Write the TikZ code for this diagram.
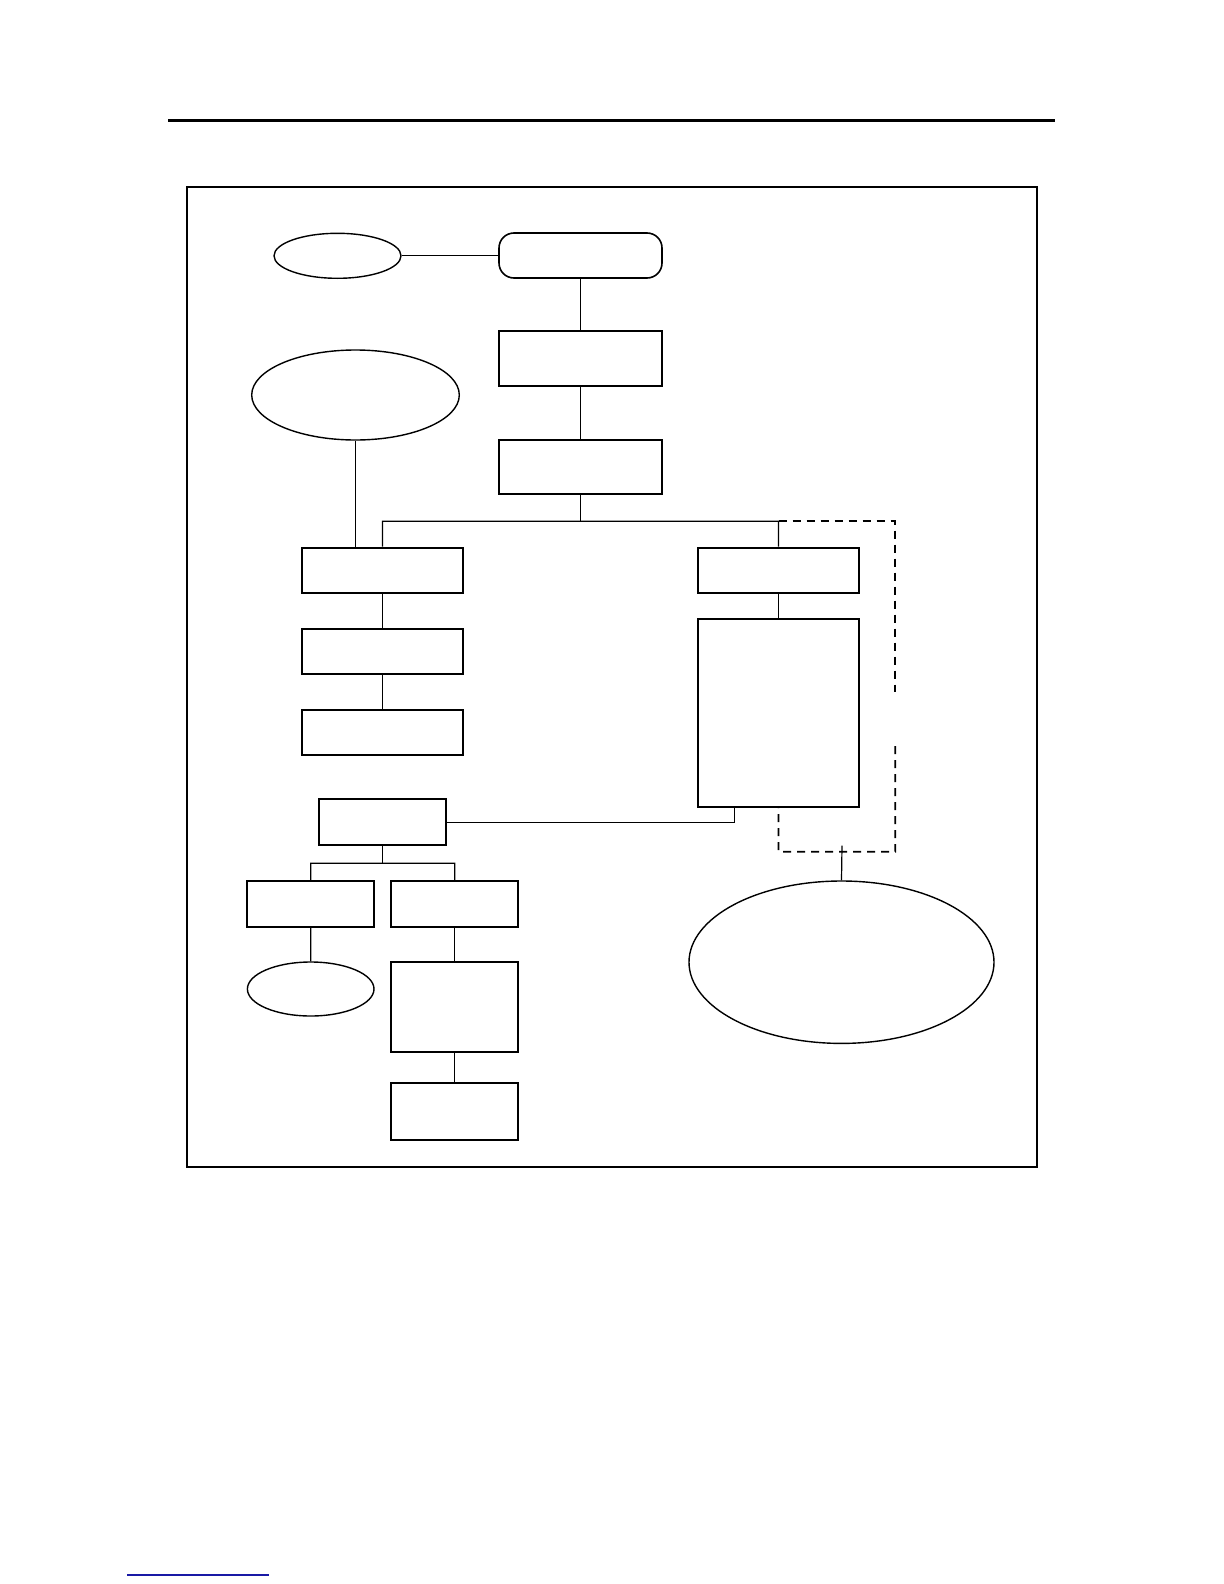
\documentclass[tikz,border=0pt]{standalone}
\usetikzlibrary{shapes.geometric,fit}
\begin{document}
\begin{tikzpicture}[x=0.5pt,y=-0.5pt,
  boxnode/.style={draw,line width=1pt,inner sep=0pt,rectangle},
  rboxnode/.style={draw,line width=0.8pt,inner sep=0pt,rectangle,rounded corners=7.5pt},
  ovalnode/.style={draw,line width=0.7pt,inner sep=0pt,ellipse},
  link/.style={line width=0.6pt},
  dashlink/.style={line width=0.9pt,dash pattern=on 4pt off 3pt}
]
\useasboundingbox (0,0) rectangle (1224,1584);
% header rule and frame
\coordinate (ruleL) at (168.3,120.3);
\coordinate (ruleR) at (1055,120.3);
\draw[line width=1.6pt] (ruleL) -- (ruleR);
\node[draw,line width=1pt,inner sep=0pt,fit={(187,187) (1037,1167)}] (frame) {};
% nodes
\node[ovalnode,minimum width=63.5pt,minimum height=22.5pt] (e1) at (337.5,255.8) {};
\node[rboxnode,fit={(499,233) (662,278)}] (rr) {};
\node[boxnode,fit={(499,331) (662,386)}] (b2) {};
\node[boxnode,fit={(499,440) (662,494)}] (b3) {};
\node[ovalnode,minimum width=103.8pt,minimum height=45pt] (e2) at (355.5,395) {};
\node[boxnode,fit={(301.7,547.7) (463.3,593.3)}] (l1) {};
\node[boxnode,fit={(301.7,629.3) (463.3,674.3)}] (l2) {};
\node[boxnode,fit={(301.7,710.3) (463.3,755.3)}] (l3) {};
\node[boxnode,fit={(697.7,547.7) (859.3,593.3)}] (r1) {};
\node[boxnode,fit={(697.7,619.3) (859.3,806.7)}] (r2) {};
\node[boxnode,fit={(319.3,799.3) (446.3,845.3)}] (m) {};
\node[boxnode,fit={(247.3,881.3) (374,926.7)}] (bb1) {};
\node[boxnode,fit={(391.3,881.3) (518.3,926.7)}] (bb2) {};
\node[ovalnode,minimum width=63.3pt,minimum height=27pt] (e3) at (310.7,989) {};
\node[boxnode,fit={(391.3,962.3) (518.3,1052)}] (bb3) {};
\node[boxnode,fit={(391.3,1083.3) (518.3,1140)}] (bb4) {};
\node[ovalnode,minimum width=152.5pt,minimum height=81.2pt] (e4) at (841.5,962.2) {};
% connector coordinates
\coordinate (busmid) at (580.5,521.3);
\coordinate (busL) at (382.5,521.3);
\coordinate (busR) at (778.5,521.3);
\coordinate (mcorner) at (734.3,822.3);
\coordinate (mbus) at (382.8,863.3);
\coordinate (mbusL) at (310.7,863.3);
\coordinate (mbusR) at (454.8,863.3);
\coordinate (dTR) at (895.3,521.3);
\coordinate (dGap1) at (895.3,691.7);
\coordinate (dGap2) at (895.3,746);
\coordinate (dBR) at (895.3,851.7);
\coordinate (dBL) at (778.5,851.7);
\coordinate (e4top) at (842,845.7);
% connectors
\draw[link] (e1.east) -- (rr.west |- e1.east);
\draw[link] (rr.south) -- (b2.north);
\draw[link] (b2.south) -- (b3.north);
\draw[link] (b3.south) -- (busmid);
\draw[link] (l1.north) -- (busL) -- (busR) -- (r1.north);
\draw[link] (e2.south) -- (e2.south |- l1.north);
\draw[link] (l1.south) -- (l2.north);
\draw[link] (l2.south) -- (l3.north);
\draw[link] (r1.south) -- (r2.north);
\draw[link] (m.east) -- (mcorner) -- (mcorner |- r2.south);
\draw[link] (m.south) -- (mbus);
\draw[link] (bb1.north) -- (mbusL) -- (mbusR) -- (bb2.north);
\draw[link] (bb1.south) -- (e3.north);
\draw[link] (bb2.south) -- (bb3.north);
\draw[link] (bb3.south) -- (bb4.north);
\draw[dashlink] (busR) -- (dTR) -- (dGap1);
\draw[dashlink] (dGap2) -- (dBR) -- (dBL) -- (r2.south);
\draw[link] (e4top) -- (e4.north);
% footer link line
\coordinate (footL) at (127,1575);
\coordinate (footR) at (269,1575);
\definecolor{footblue}{RGB}{25,25,165}
\draw[footblue,line width=0.7pt] (footL) -- (footR);
\end{tikzpicture}
\end{document}
